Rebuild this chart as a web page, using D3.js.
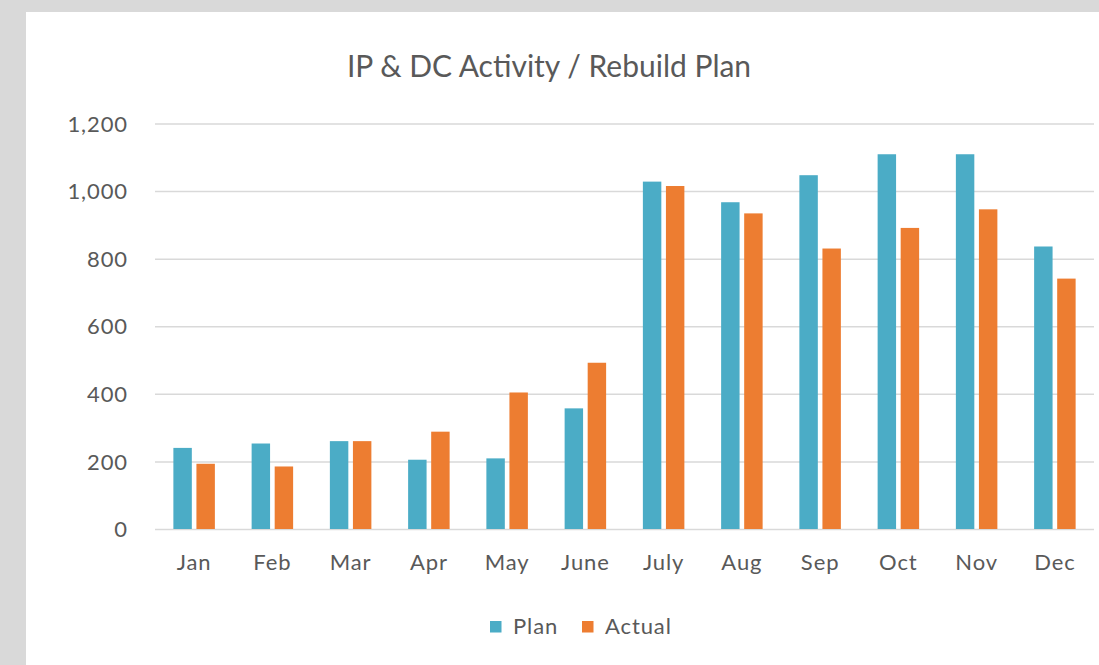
<!DOCTYPE html>
<meta charset="utf-8">
<style>
body {
  margin: 0;
  background: #d9d9d9;
  font-family: 'Lato', 'Open Sans', sans-serif;
}
.axis text, .label {
  fill: #595959;
}
.axis text, .legend-text {
  letter-spacing: 0.9px;
}
</style>
<body>
<script src="https://d3js.org/d3.v7.min.js"></script>
<div id="chart"></div>
<script>

// data
var months = ["Jan", "Feb", "Mar", "Apr", "May", "June", "July", "Aug", "Sep", "Oct", "Nov", "Dec"];
var plan   = [240, 253, 260, 205, 209, 357, 1028, 967, 1047, 1109, 1109, 836];
var actual = [193, 185, 260, 288, 404, 492, 1015, 934, 830, 891, 946, 741];
var series = ["Plan", "Actual"];
var yTicks = [0, 200, 400, 600, 800, 1000, 1200];

var color = d3.scaleOrdinal()
  .domain(series)
  .range(["#4bacc6", "#ed7d31"]);

var W = 1099, H = 665;
var margin = { top: 123.5, right: 5, bottom: 136, left: 155 };
var width = W - margin.left - margin.right;
var height = H - margin.top - margin.bottom;

var svg = d3.select("#chart").append("svg")
  .attr("width", W)
  .attr("height", H)
  .style("display", "block");

// white chart area over the grey frame
svg.append("rect")
  .attr("x", 26).attr("y", 12)
  .attr("width", W - 26).attr("height", H - 12)
  .attr("fill", "white");

svg.append("text")
  .attr("class", "label")
  .attr("x", 549)
  .attr("y", 77)
  .attr("text-anchor", "middle")
  .style("font-size", "30px")
  .text("IP & DC Activity / Rebuild Plan");

var g = svg.append("g")
  .attr("transform", "translate(" + margin.left + "," + margin.top + ")");

var x0 = d3.scaleBand()
  .domain(months)
  .range([0, width]);

var groupW = 41.5;
var x1 = d3.scaleBand()
  .domain(series)
  .range([(x0.bandwidth() - groupW) / 2, (x0.bandwidth() + groupW) / 2])
  .paddingInner(0.2);

var y = d3.scaleLinear()
  .domain([0, 1200])
  .range([height, 0]);

// gridlines + tick labels
var yAxis = g.append("g")
  .attr("class", "axis")
  .call(d3.axisLeft(y).tickValues(yTicks).tickSize(-width).tickPadding(27).tickFormat(d3.format(",")));
yAxis.attr("font-family", null);
yAxis.select(".domain").remove();
yAxis.selectAll("line").attr("stroke", "#d9d9d9").attr("stroke-width", 1.5);
yAxis.selectAll("text").style("font-size", "22px").attr("dy", "0.35em");

var table = months.map(function(m, i) { return { month: m, Plan: plan[i], Actual: actual[i] }; });

g.append("g")
  .selectAll("g")
  .data(table)
  .enter().append("g")
    .attr("transform", function(d) { return "translate(" + x0(d.month) + ",0)"; })
  .selectAll("rect")
  .data(function(d) { return series.map(function(k) { return { key: k, value: d[k] }; }); })
  .enter().append("rect")
    .attr("x", function(d) { return x1(d.key); })
    .attr("y", function(d) { return y(d.value); })
    .attr("width", x1.bandwidth())
    .attr("height", function(d) { return height - y(d.value); })
    .attr("fill", function(d) { return color(d.key); });

// month labels
var xAxis = g.append("g")
  .attr("class", "axis")
  .attr("transform", "translate(0," + height + ")")
  .call(d3.axisBottom(x0).tickSize(0).tickPadding(25));
xAxis.attr("font-family", null);
xAxis.select(".domain").remove();
xAxis.selectAll("text").style("font-size", "22px");

// legend
var legendX = [490, 582];
var legend = svg.append("g");
legend.selectAll("rect")
  .data(series)
  .enter().append("rect")
    .attr("x", function(d, i) { return legendX[i]; })
    .attr("y", 621)
    .attr("width", 11.5)
    .attr("height", 11.5)
    .attr("fill", function(d) { return color(d); });
legend.selectAll("text")
  .data(series)
  .enter().append("text")
    .attr("class", "label legend-text")
    .attr("x", function(d, i) { return legendX[i] + 23; })
    .attr("y", 634)
    .style("font-size", "22px")
    .text(function(d) { return d; });

</script>
</body>
